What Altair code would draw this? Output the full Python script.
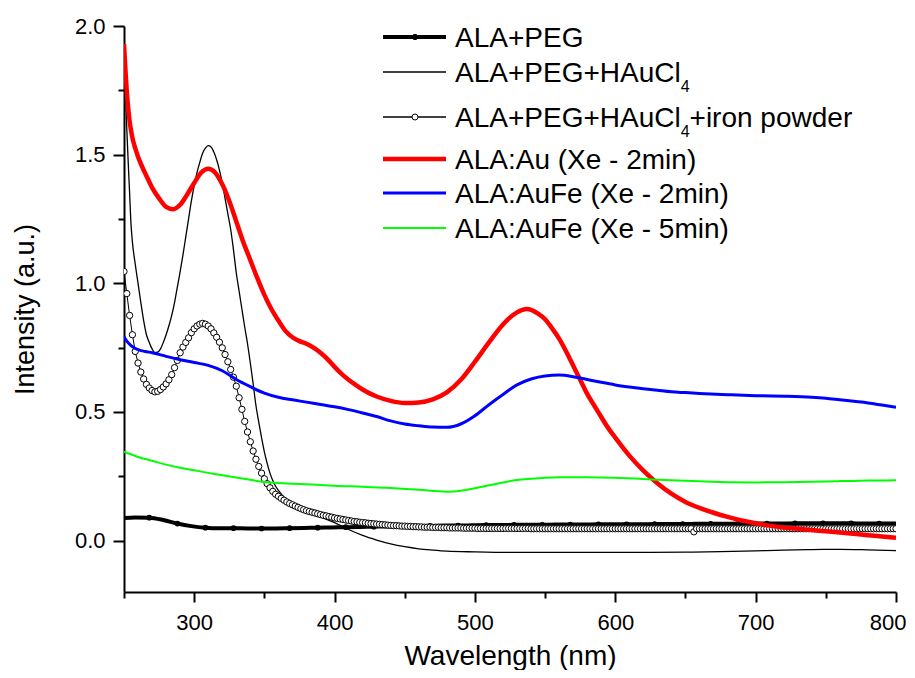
import altair as alt
import pandas as pd

FONT = "Liberation Sans"

# ---------------- data (wavelength nm, intensity a.u.) ----------------
PEG = [(250, 0.088), (258, 0.090), (268, 0.089), (278, 0.080), (288, 0.066), (298, 0.056),
       (308, 0.050), (318, 0.048), (328, 0.048), (338, 0.047), (348, 0.047), (358, 0.047),
       (368, 0.048), (378, 0.049), (388, 0.050), (398, 0.051), (408, 0.052), (418, 0.053),
       (428, 0.054), (438, 0.055), (448, 0.056), (458, 0.057), (468, 0.057), (478, 0.058),
       (488, 0.058), (498, 0.059), (508, 0.060), (518, 0.060), (528, 0.061), (538, 0.061),
       (548, 0.061), (558, 0.062), (568, 0.062), (578, 0.062), (588, 0.063), (598, 0.063),
       (608, 0.063), (618, 0.063), (628, 0.064), (638, 0.064), (648, 0.064), (658, 0.065),
       (668, 0.065), (678, 0.065), (688, 0.066), (698, 0.066), (708, 0.066), (718, 0.066),
       (728, 0.067), (738, 0.067), (748, 0.067), (758, 0.067), (768, 0.067), (778, 0.066),
       (788, 0.066), (798, 0.066), (800, 0.066)]

HAUCL4 = [(250, 1.90), (251, 1.74), (252, 1.60), (253, 1.47), (254, 1.35), (255, 1.23),
          (256, 1.16), (258, 1.075), (260, 1.00), (262, 0.925), (264, 0.855), (266, 0.80),
          (268, 0.77), (270, 0.745), (272, 0.73), (274, 0.732), (276, 0.745), (278, 0.77),
          (280, 0.80), (282, 0.835), (284, 0.875), (286, 0.925), (288, 0.985), (290, 1.045),
          (292, 1.11), (294, 1.18), (296, 1.25), (298, 1.32), (300, 1.38), (302, 1.43),
          (304, 1.47), (306, 1.505), (308, 1.525), (310, 1.535), (312, 1.53), (314, 1.51),
          (316, 1.48), (318, 1.44), (320, 1.39), (322, 1.33), (324, 1.27), (326, 1.21),
          (328, 1.13), (330, 1.04), (332, 0.97), (334, 0.90), (336, 0.83), (338, 0.765),
          (340, 0.69), (342, 0.61), (344, 0.525), (346, 0.46), (348, 0.40), (350, 0.345),
          (352, 0.30), (354, 0.262), (356, 0.233), (358, 0.211), (360, 0.195), (365, 0.163),
          (370, 0.142), (375, 0.128), (380, 0.115), (390, 0.092), (400, 0.070), (410, 0.043),
          (420, 0.020), (430, 0.002), (440, -0.013), (450, -0.024), (460, -0.032),
          (470, -0.037), (480, -0.041), (500, -0.044), (525, -0.046), (550, -0.046),
          (575, -0.046), (600, -0.046), (625, -0.046), (650, -0.045), (675, -0.043),
          (700, -0.040), (720, -0.037), (740, -0.035), (760, -0.034), (780, -0.036),
          (800, -0.039)]

# ALA+PEG+HAuCl4+iron powder, one value every 2 nm from 250 to 800
IRON_WL = list(range(250, 801, 2))
IRON = [
    1.046, 0.960, 0.875, 0.800, 0.735, 0.690, 0.655, 0.628, 0.607, 0.593,   # 250-268
    0.583, 0.578, 0.580, 0.587, 0.597, 0.609, 0.625, 0.645, 0.672, 0.700,   # 270-288
    0.730, 0.752, 0.770, 0.788, 0.808, 0.823, 0.834, 0.841, 0.844, 0.841,   # 290-308
    0.834, 0.823, 0.807, 0.790, 0.771, 0.749, 0.723, 0.695, 0.665, 0.635,   # 310-328
    0.600, 0.555, 0.510, 0.463, 0.422, 0.384, 0.348, 0.316, 0.288, 0.262,   # 330-348
    0.240, 0.221, 0.205, 0.191, 0.180, 0.172, 0.164, 0.157, 0.150, 0.144,   # 350-368
    0.139, 0.134, 0.129, 0.124, 0.120, 0.116, 0.113, 0.110, 0.107, 0.104,   # 370-388
    0.101, 0.098, 0.096, 0.093, 0.091, 0.088, 0.086, 0.084, 0.082, 0.080,   # 390-408
    0.078, 0.076, 0.074, 0.073, 0.071, 0.070, 0.069, 0.067, 0.066, 0.065,   # 410-428
    0.064, 0.063, 0.062, 0.061, 0.060, 0.059, 0.058, 0.058, 0.057, 0.056,   # 430-448
    0.056, 0.055, 0.055, 0.054, 0.054, 0.053, 0.053, 0.052, 0.052, 0.052,   # 450-468
    0.051, 0.051, 0.051, 0.050, 0.050, 0.050, 0.049, 0.049, 0.049, 0.049,   # 470-488
    0.049, 0.048, 0.048, 0.048, 0.048, 0.048, 0.047, 0.047, 0.047, 0.047,   # 490-508
    0.047, 0.047, 0.047, 0.047, 0.047, 0.047, 0.047, 0.047, 0.047, 0.047,   # 510-528
    0.047, 0.047, 0.047, 0.047, 0.047, 0.046, 0.046, 0.046, 0.046, 0.046,   # 530-548
    0.046, 0.046, 0.046, 0.046, 0.046, 0.046, 0.046, 0.046, 0.046, 0.046,   # 550-568
    0.046, 0.046, 0.046, 0.046, 0.046, 0.046, 0.046, 0.046, 0.046, 0.046,   # 570-588
    0.046, 0.046, 0.046, 0.046, 0.046, 0.046, 0.046, 0.046, 0.046, 0.046,   # 590-608
    0.046, 0.046, 0.046, 0.046, 0.046, 0.046, 0.046, 0.046, 0.046, 0.046,   # 610-628
    0.046, 0.046, 0.046, 0.046, 0.046, 0.046, 0.046, 0.046, 0.046, 0.046,   # 630-648
    0.046, 0.046, 0.046, 0.034, 0.046, 0.046, 0.046, 0.046, 0.046, 0.046,   # 650-668
    0.046, 0.046, 0.046, 0.046, 0.046, 0.046, 0.046, 0.046, 0.046, 0.046,   # 670-688
    0.046, 0.046, 0.046, 0.046, 0.046, 0.046, 0.046, 0.046, 0.046, 0.046,   # 690-708
    0.046, 0.046, 0.046, 0.046, 0.046, 0.046, 0.046, 0.046, 0.046, 0.046,   # 710-728
    0.046, 0.046, 0.046, 0.046, 0.046, 0.046, 0.046, 0.046, 0.046, 0.046,   # 730-748
    0.046, 0.046, 0.046, 0.046, 0.046, 0.046, 0.046, 0.046, 0.046, 0.046,   # 750-768
    0.046, 0.046, 0.046, 0.046, 0.046, 0.046, 0.046, 0.046, 0.046, 0.046,   # 770-788
    0.046, 0.046, 0.046, 0.046, 0.046, 0.046,                               # 790-800
]

AU_2 = [(250, 1.93), (251, 1.83), (252, 1.745), (253, 1.68), (254, 1.63), (255, 1.595),
        (256, 1.565), (258, 1.525), (260, 1.492), (263, 1.452), (266, 1.417), (270, 1.372),
        (275, 1.33), (280, 1.297), (285, 1.288), (290, 1.305), (295, 1.345), (300, 1.39),
        (305, 1.43), (310, 1.445), (315, 1.43), (320, 1.385), (325, 1.32), (330, 1.24),
        (335, 1.16), (340, 1.09), (345, 1.02), (350, 0.955), (355, 0.90), (360, 0.855),
        (365, 0.815), (370, 0.79), (375, 0.775), (380, 0.765), (385, 0.75), (390, 0.73),
        (395, 0.705), (400, 0.675), (405, 0.648), (410, 0.625), (415, 0.605), (420, 0.587),
        (425, 0.572), (430, 0.56), (440, 0.543), (450, 0.535), (460, 0.537), (470, 0.549),
        (480, 0.576), (490, 0.625), (500, 0.695), (510, 0.77), (520, 0.84), (530, 0.887),
        (537, 0.90), (545, 0.882), (550, 0.86), (555, 0.825), (560, 0.785), (565, 0.735),
        (570, 0.68), (575, 0.625), (580, 0.57), (585, 0.525), (590, 0.48), (595, 0.437),
        (600, 0.40), (610, 0.33), (620, 0.272), (630, 0.223), (640, 0.182), (650, 0.15),
        (660, 0.127), (670, 0.108), (680, 0.092), (690, 0.078), (700, 0.067), (710, 0.058),
        (720, 0.051), (730, 0.046), (740, 0.041), (750, 0.036), (760, 0.031), (770, 0.026),
        (780, 0.021), (790, 0.016), (800, 0.011)]

AUFE_2 = [(250, 0.792), (252, 0.775), (255, 0.758), (260, 0.742), (265, 0.735), (270, 0.73),
          (280, 0.716), (290, 0.703), (300, 0.692), (310, 0.681), (320, 0.66), (330, 0.626),
          (340, 0.598), (350, 0.573), (360, 0.557), (370, 0.547), (380, 0.538), (390, 0.529),
          (400, 0.52), (410, 0.509), (420, 0.496), (430, 0.482), (440, 0.465), (450, 0.453),
          (460, 0.446), (470, 0.441), (480, 0.44), (490, 0.453), (500, 0.485), (510, 0.528),
          (520, 0.568), (530, 0.605), (540, 0.628), (550, 0.64), (560, 0.643), (570, 0.637),
          (580, 0.626), (590, 0.615), (600, 0.605), (610, 0.597), (620, 0.59), (630, 0.584),
          (640, 0.578), (650, 0.575), (660, 0.572), (680, 0.567), (700, 0.563), (720, 0.561),
          (740, 0.557), (750, 0.553), (760, 0.547), (770, 0.541), (780, 0.535), (790, 0.527),
          (800, 0.518)]

AUFE_5 = [(250, 0.345), (260, 0.325), (270, 0.31), (280, 0.295), (290, 0.283), (300, 0.273),
          (310, 0.263), (320, 0.254), (330, 0.245), (340, 0.236), (350, 0.228), (360, 0.224),
          (370, 0.221), (380, 0.219), (390, 0.216), (400, 0.213), (420, 0.209), (440, 0.204),
          (460, 0.197), (480, 0.19), (490, 0.194), (500, 0.203), (510, 0.215), (520, 0.226),
          (530, 0.235), (540, 0.24), (550, 0.244), (560, 0.246), (580, 0.246), (600, 0.244),
          (620, 0.239), (640, 0.234), (660, 0.23), (680, 0.227), (700, 0.226), (720, 0.227),
          (740, 0.229), (760, 0.231), (780, 0.233), (800, 0.234)]

LEGEND_LABELS = ["ALA+PEG", "ALA+PEG+HAuCl", "ALA+PEG+HAuCl",
                 "ALA:Au (Xe - 2min)", "ALA:AuFe (Xe - 2min)", "ALA:AuFe (Xe - 5min)"]
LEGEND_COLORS = ["#000000", "#000000", "#000000", "#ff0000", "#0000ff", "#00ff00"]
X_TICKS = list(range(250, 801, 50))
Y_TICKS = [0.0, 0.25, 0.5, 0.75, 1.0, 1.25, 1.5, 1.75, 2.0]


def frame(pairs):
    return pd.DataFrame(pairs, columns=["wl", "v"])


peg_df = frame(PEG)
thin_df = frame(HAUCL4)
iron_df = pd.DataFrame({"wl": IRON_WL[:len(IRON)], "v": IRON[:len(IRON_WL)]})
red_df = frame(AU_2)
blue_df = frame(AUFE_2)
green_df = frame(AUFE_5)

xaxis = alt.Axis(
    values=X_TICKS,
    labelExpr="(datum.value % 100 === 0 && datum.value > 250) ? datum.label : ''",
    labelFlush=True, labelFlushOffset=10, labelOverlap=False, labelFont=FONT,
    labelFontSize=22, labelColor="black", labelPadding=10,
    tickSize={"condition": {"test": "datum.value % 100 === 0", "value": 10}, "value": 6},
    tickColor="black", tickWidth=2, domainColor="black", domainWidth=2, grid=False,
    titleFont=FONT, titleFontSize=28, titleFontWeight="normal", titleColor="black",
    titleX=386, titleY=72, titleBaseline="alphabetic", titleAlign="center",
)
yaxis = alt.Axis(
    values=Y_TICKS,
    labelExpr="datum.value % 0.5 === 0 ? format(datum.value, '.1f') : ''",
    labelOverlap=False, labelFlush=False, labelFont=FONT, labelFontSize=22,
    labelColor="black", labelPadding=8,
    tickSize={"condition": {"test": "datum.value % 0.5 === 0", "value": 11}, "value": 6},
    tickColor="black", tickWidth=2, domainColor="black", domainWidth=2, grid=False,
    titleFont=FONT, titleFontSize=27, titleFontWeight="normal", titleColor="black",
    titleX=-91, titleY=283, titleAngle=270, titleBaseline="alphabetic", titleAlign="center",
)

X = alt.X("wl:Q", scale=alt.Scale(domain=[250, 800], nice=False, zero=False),
          axis=xaxis, title="Wavelength (nm)")
Y = alt.Y("v:Q", scale=alt.Scale(domain=[-0.2, 2.0], nice=False, zero=False),
          axis=yaxis, title="Intensity (a.u.)")

peg_line = alt.Chart(peg_df).mark_line(color="black", strokeWidth=4, interpolate="monotone",
                                       clip=True).encode(x=X, y=Y)
peg_pts = alt.Chart(peg_df).transform_filter(
    "datum.wl >= 268 && (datum.wl - 268) % 20 === 0"
).mark_circle(color="black", size=32, opacity=1, clip=True).encode(x=X, y=Y)
thin_line = alt.Chart(thin_df).mark_line(color="black", strokeWidth=1.3, interpolate="monotone",
                                         clip=True).encode(x=X, y=Y)
iron_line = alt.Chart(iron_df).mark_line(color="black", strokeWidth=1, clip=True).encode(x=X, y=Y)
iron_pts = alt.Chart(iron_df).mark_circle(size=40, fill="white", stroke="black", strokeWidth=1,
                                          opacity=1, clip=True).encode(x=X, y=Y)
red_line = alt.Chart(red_df).mark_line(color="#ff0000", strokeWidth=4.5, interpolate="monotone",
                                       clip=True).encode(x=X, y=Y)
blue_line = alt.Chart(blue_df).mark_line(color="#0000ff", strokeWidth=3, interpolate="monotone",
                                         clip=True).encode(x=X, y=Y)
green_line = alt.Chart(green_df).mark_line(color="#00ff00", strokeWidth=2, interpolate="monotone",
                                           clip=True).encode(x=X, y=Y)

# ---------------- legend (pixel positions inside the plot area) ----------------
ROW_Y = [11, 46, 91, 133, 167, 202]
ROW_W = [4, 1.3, 1.3, 4.5, 3, 2]
leg_rules = pd.DataFrame({"py": ROW_Y, "col": LEGEND_COLORS, "sw": ROW_W})
leg_rule = alt.Chart(leg_rules).mark_rule().encode(
    x=alt.value(259), x2=alt.value(322),
    y=alt.Y("py:Q", scale=None, axis=None),
    color=alt.Color("col:N", scale=None, legend=None),
    strokeWidth=alt.StrokeWidth("sw:Q", scale=None, legend=None),
)
leg_sym = pd.DataFrame({"px": [291, 291], "py": [ROW_Y[0], ROW_Y[2]],
                        "fill": ["#000000", "#ffffff"], "sz": [28, 36]})
leg_pts = alt.Chart(leg_sym).mark_point(filled=True, shape="circle", stroke="black",
                                         strokeWidth=1, opacity=1).encode(
    x=alt.X("px:Q", scale=None, axis=None),
    y=alt.Y("py:Q", scale=None, axis=None),
    fill=alt.Fill("fill:N", scale=None, legend=None),
    size=alt.Size("sz:Q", scale=None, legend=None),
)

FS = 28
SUB = 16
TX = 331
W_MAIN = 8.059 * FS           # advance width of "ALA+PEG+HAuCl" in Arial metrics
W_SUB = 0.556 * SUB
texts = []
for i, lab in enumerate(LEGEND_LABELS):
    base = ROW_Y[i] + 10
    texts.append((TX, base, lab, FS))
    if i in (1, 2):
        texts.append((TX + W_MAIN, base + 10, "4", SUB))
    if i == 2:
        texts.append((TX + W_MAIN + W_SUB, base, "+iron powder", FS))
leg_txt_df = pd.DataFrame(texts, columns=["px", "py", "t", "fs"])
leg_txt = alt.Chart(leg_txt_df).mark_text(align="left", baseline="alphabetic", font=FONT,
                                          color="black").encode(
    x=alt.X("px:Q", scale=None, axis=None),
    y=alt.Y("py:Q", scale=None, axis=None),
    text="t:N",
    size=alt.Size("fs:Q", scale=None, legend=None),
)

chart = alt.layer(
    peg_line, peg_pts, thin_line, iron_line, iron_pts, red_line, blue_line, green_line,
    leg_rule, leg_pts, leg_txt,
).properties(
    width=772, height=566,
    autosize=alt.AutoSizeParams(type="none"),
    padding={"left": 116, "top": 18, "right": 11, "bottom": 78},
).configure_view(stroke=None)

chart.save("out.html", embed_options={"renderer": "svg", "actions": False})
